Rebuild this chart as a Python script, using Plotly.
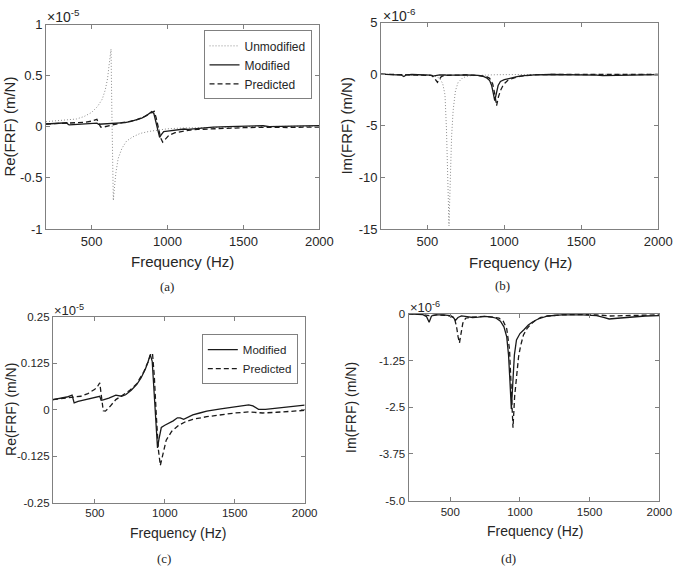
import plotly.graph_objects as go

W, H = 687, 572

# ---------------- data (Re in 1e-5 m/N, Im in 1e-6 m/N) ----------------
re_mod_f = [200, 250, 300, 337, 345, 352, 380, 420, 470, 520, 535, 545, 560, 600, 650, 690, 720, 760, 800,
            830, 860, 880, 896, 910, 925, 940, 948, 958, 975, 1000, 1030, 1060, 1090, 1110, 1135, 1160, 1200,
            1250, 1300, 1400, 1500, 1560, 1600, 1630, 1670, 1720, 1800, 1900, 2000]
re_mod_v = [0.027, 0.030, 0.034, 0.039, 0.025, 0.018, 0.022, 0.026, 0.030, 0.034, 0.036, 0.025, 0.026, 0.031,
            0.039, 0.036, 0.040, 0.052, 0.068, 0.085, 0.108, 0.128, 0.148, 0.130, 0.040, -0.060, -0.103, -0.080,
            -0.048, -0.042, -0.037, -0.030, -0.022, -0.022, -0.026, -0.022, -0.014, -0.009, -0.004, 0.002, 0.007,
            0.010, 0.013, 0.010, 0.001, 0.001, 0.004, 0.008, 0.012]

re_pred_f = [200, 250, 300, 350, 400, 450, 500, 520, 535, 545, 560, 575, 600, 650, 700, 750, 800, 850, 880, 900,
             912, 925, 940, 955, 968, 985, 1010, 1050, 1100, 1150, 1200, 1300, 1400, 1500, 1600, 1650, 1700, 1800,
             1900, 2000]
re_pred_v = [0.027, 0.030, 0.032, 0.034, 0.036, 0.043, 0.055, 0.063, 0.072, 0.040, -0.003, -0.004, 0.005, 0.027,
             0.040, 0.052, 0.070, 0.102, 0.128, 0.150, 0.152, 0.090, -0.020, -0.110, -0.150, -0.120, -0.082,
             -0.058, -0.042, -0.032, -0.026, -0.019, -0.013, -0.009, -0.006, -0.008, -0.009, -0.007, -0.004, -0.002]

re_unmod_f = [200, 300, 400, 450, 500, 540, 570, 590, 605, 615, 622, 628, 633, 638, 643, 650, 660, 675, 700, 730,
              770, 820, 880, 950, 1000, 1100, 1200, 1400, 1600, 1800, 2000]
re_unmod_v = [0.05, 0.06, 0.076, 0.10, 0.14, 0.20, 0.27, 0.36, 0.47, 0.60, 0.70, 0.76, 0.20, -0.40, -0.72, -0.60,
              -0.45, -0.31, -0.21, -0.14, -0.10, -0.065, -0.045, -0.03, -0.02, -0.012, -0.008, -0.002, 0.002,
              0.004, 0.006]

im_mod_f = [200, 300, 330, 348, 365, 400, 450, 500, 520, 537, 555, 580, 620, 660, 700, 750, 800, 830, 860, 885,
            905, 918, 928, 938, 948, 960, 975, 1000, 1030, 1060, 1090, 1130, 1200, 1300, 1450, 1550, 1600, 1640,
            1700, 1800, 1900, 2000]
im_mod_v = [0.0, -0.02, -0.08, -0.23, -0.06, -0.03, -0.03, -0.05, -0.09, -0.18, -0.10, -0.06, -0.08, -0.10,
            -0.09, -0.07, -0.09, -0.12, -0.20, -0.35, -0.62, -1.10, -1.80, -2.55, -1.90, -1.10, -0.70, -0.53,
            -0.42, -0.30, -0.22, -0.14, -0.06, -0.03, -0.03, -0.05, -0.10, -0.14, -0.12, -0.08, -0.06, -0.05]

im_pred_f = [200, 300, 348, 400, 450, 500, 530, 545, 556, 566, 576, 590, 610, 650, 700, 750, 800, 850, 880, 905,
             925, 938, 950, 962, 975, 990, 1005, 1025, 1050, 1080, 1110, 1150, 1200, 1300, 1450, 1550, 1650,
             1750, 1850, 2000]
im_pred_v = [0.0, -0.02, -0.05, -0.03, -0.04, -0.06, -0.12, -0.35, -0.62, -0.78, -0.55, -0.25, -0.12, -0.09,
             -0.08, -0.07, -0.09, -0.12, -0.20, -0.40, -0.95, -1.90, -3.05, -2.20, -1.60, -1.15, -0.85, -0.57,
             -0.40, -0.27, -0.18, -0.10, -0.06, -0.03, -0.02, -0.03, -0.06, -0.05, -0.04, -0.03]

im_unmod_f = [200, 400, 500, 550, 580, 600, 615, 625, 632, 637, 641, 645, 650, 658, 668, 683, 700, 730, 770, 850,
              950, 1100, 1300, 1600, 2000]
im_unmod_v = [-0.01, -0.03, -0.08, -0.18, -0.4, -0.9, -2.0, -5.5, -10.0, -13.5, -14.7, -12.5, -9.0, -6.0, -3.5,
              -1.6, -0.8, -0.35, -0.15, -0.08, -0.05, -0.03, -0.02, -0.01, -0.01]

x_ticks = [500, 1000, 1500, 2000]
ya_ticks = [-1, -0.5, 0, 0.5, 1]
ya_text = ["-1", "-0.5", "0", "0.5", "1"]
yb_ticks = [-15, -10, -5, 0, 5]
yb_text = ["-15", "-10", "-5", "0", "5"]
yc_ticks = [-0.25, -0.125, 0, 0.125, 0.25]
yc_text = ["-0.25", "-0.125", "0", "0.125", "0.25"]
yd_ticks = [-5, -3.75, -2.5, -1.25, 0]
yd_text = ["-5.0", "-3.75", "-2.5", "-1.25", "0"]

# ---------------- layout helpers ----------------
def px_x(p):
    return p / W

def px_y(p):
    return 1 - p / H

FONT = "Liberation Sans, Arial, sans-serif"
AX = "#808080"
TXT = "#262626"

boxes = {  # left, right, top, bottom in px
    "a": (47, 326, 18, 228),
    "b": (389, 672, 16, 228),
    "c": (54, 311, 318, 509),
    "d": (417, 673, 315, 507),
}

fig = go.Figure()

SOLID = dict(color="#1a1a1a", width=1.3)
DASH = dict(color="#1a1a1a", width=1.3, dash="5px,3px")
DOT = dict(color="#8c8c8c", width=1, dash="1px,2px")

# (a)
fig.add_trace(go.Scatter(x=re_unmod_f, y=re_unmod_v, mode="lines", line=DOT, name="Unmodified",
                         xaxis="x", yaxis="y", legend="legend"))
fig.add_trace(go.Scatter(x=re_mod_f, y=re_mod_v, mode="lines", line=SOLID, name="Modified",
                         xaxis="x", yaxis="y", legend="legend"))
fig.add_trace(go.Scatter(x=re_pred_f, y=re_pred_v, mode="lines", line=DASH, name="Predicted",
                         xaxis="x", yaxis="y", legend="legend"))
# (b)
fig.add_trace(go.Scatter(x=im_unmod_f, y=im_unmod_v, mode="lines", line=DOT, showlegend=False,
                         xaxis="x2", yaxis="y2"))
fig.add_trace(go.Scatter(x=im_mod_f, y=im_mod_v, mode="lines", line=SOLID, showlegend=False,
                         xaxis="x2", yaxis="y2"))
fig.add_trace(go.Scatter(x=im_pred_f, y=im_pred_v, mode="lines", line=DASH, showlegend=False,
                         xaxis="x2", yaxis="y2"))
# (c)
fig.add_trace(go.Scatter(x=re_mod_f, y=re_mod_v, mode="lines", line=SOLID, name="Modified",
                         xaxis="x3", yaxis="y3", legend="legend2"))
fig.add_trace(go.Scatter(x=re_pred_f, y=re_pred_v, mode="lines", line=DASH, name="Predicted",
                         xaxis="x3", yaxis="y3", legend="legend2"))
# (d)
fig.add_trace(go.Scatter(x=im_mod_f, y=im_mod_v, mode="lines", line=SOLID, showlegend=False,
                         xaxis="x4", yaxis="y4"))
fig.add_trace(go.Scatter(x=im_pred_f, y=im_pred_v, mode="lines", line=DASH, showlegend=False,
                         xaxis="x4", yaxis="y4"))

def xaxis(box, anchor, fs):
    l, r, t, b = box
    return dict(domain=[px_x(l), px_x(r)], range=[200, 2000], tickvals=x_ticks,
                ticktext=[str(v) for v in x_ticks], ticks="inside", ticklen=4, tickcolor=AX,
                showline=True, linecolor=AX, linewidth=1, mirror="allticks", showgrid=False,
                zeroline=False, anchor=anchor, tickfont=dict(size=fs, color=TXT, family=FONT))

def yaxis(box, anchor, rng, tv, tt, fs):
    l, r, t, b = box
    return dict(domain=[px_y(b), px_y(t)], range=rng, tickvals=tv, ticktext=tt, ticks="inside",
                ticklen=4, tickcolor=AX, showline=True, linecolor=AX, linewidth=1, mirror="allticks",
                showgrid=False, zeroline=False, anchor=anchor,
                tickfont=dict(size=fs, color=TXT, family=FONT))

annotations = []

def ann(text, xpx, ypx, size, family=FONT, angle=0, xanchor="center", yanchor="middle"):
    annotations.append(dict(text=text, x=px_x(xpx), y=px_y(ypx), xref="paper", yref="paper",
                            showarrow=False, textangle=angle, xanchor=xanchor, yanchor=yanchor,
                            font=dict(size=size, color=TXT, family=family)))

# axis titles
ann("Frequency (Hz)", 186, 261, 15)
ann("Frequency (Hz)", 531, 262, 15)
ann("Frequency (Hz)", 182, 540, 14)
ann("Frequency (Hz)", 546, 538, 14)
ann("Re(FRF) (m/N)", 10, 123, 15, angle=-90)
ann("Im(FRF) (m/N)", 354, 122, 15, angle=-90)
ann("Re(FRF) (m/N)", 11, 413, 14, angle=-90)
ann("Im(FRF) (m/N)", 359, 411, 14, angle=-90)
# exponent labels
ann("×10<sup>-5</sup>", 46, 21, 14, xanchor="left", yanchor="bottom")
ann("×10<sup>-6</sup>", 389, 19, 14, xanchor="left", yanchor="bottom")
ann("×10<sup>-5</sup>", 53, 321, 13, xanchor="left", yanchor="bottom")
ann("×10<sup>-6</sup>", 416, 318, 13, xanchor="left", yanchor="bottom")
# captions
SERIF = "Liberation Serif, DejaVu Serif, serif"
ann("(a)", 170, 287, 13, family=SERIF)
ann("(b)", 513, 286, 13, family=SERIF)
ann("(c)", 167, 566, 13, family=SERIF)
ann("(d)", 519, 566, 13, family=SERIF)

def legend_style(fs):
    return dict(bgcolor="white", bordercolor=AX, borderwidth=1, xanchor="right", yanchor="top",
                font=dict(size=fs, color=TXT, family=FONT), tracegroupgap=0, itemwidth=30)

fig.update_layout(
    width=W, height=H, margin=dict(l=0, r=0, t=0, b=0),
    paper_bgcolor="white", plot_bgcolor="white",
    xaxis=xaxis(boxes["a"], "y", 13), yaxis=yaxis(boxes["a"], "x", [-1, 1], ya_ticks, ya_text, 13),
    xaxis2=xaxis(boxes["b"], "y2", 13), yaxis2=yaxis(boxes["b"], "x2", [-15, 5], yb_ticks, yb_text, 13),
    xaxis3=xaxis(boxes["c"], "y3", 11.5),
    yaxis3=yaxis(boxes["c"], "x3", [-0.25, 0.25], yc_ticks, yc_text, 11.5),
    xaxis4=xaxis(boxes["d"], "y4", 11.5), yaxis4=yaxis(boxes["d"], "x4", [-5, 0], yd_ticks, yd_text, 11.5),
    legend=dict(x=px_x(318), y=px_y(24), **legend_style(12)),
    legend2=dict(x=px_x(304), y=px_y(336), **legend_style(11.5)),
    annotations=annotations,
    showlegend=True,
)

fig.write_html("out.html")
